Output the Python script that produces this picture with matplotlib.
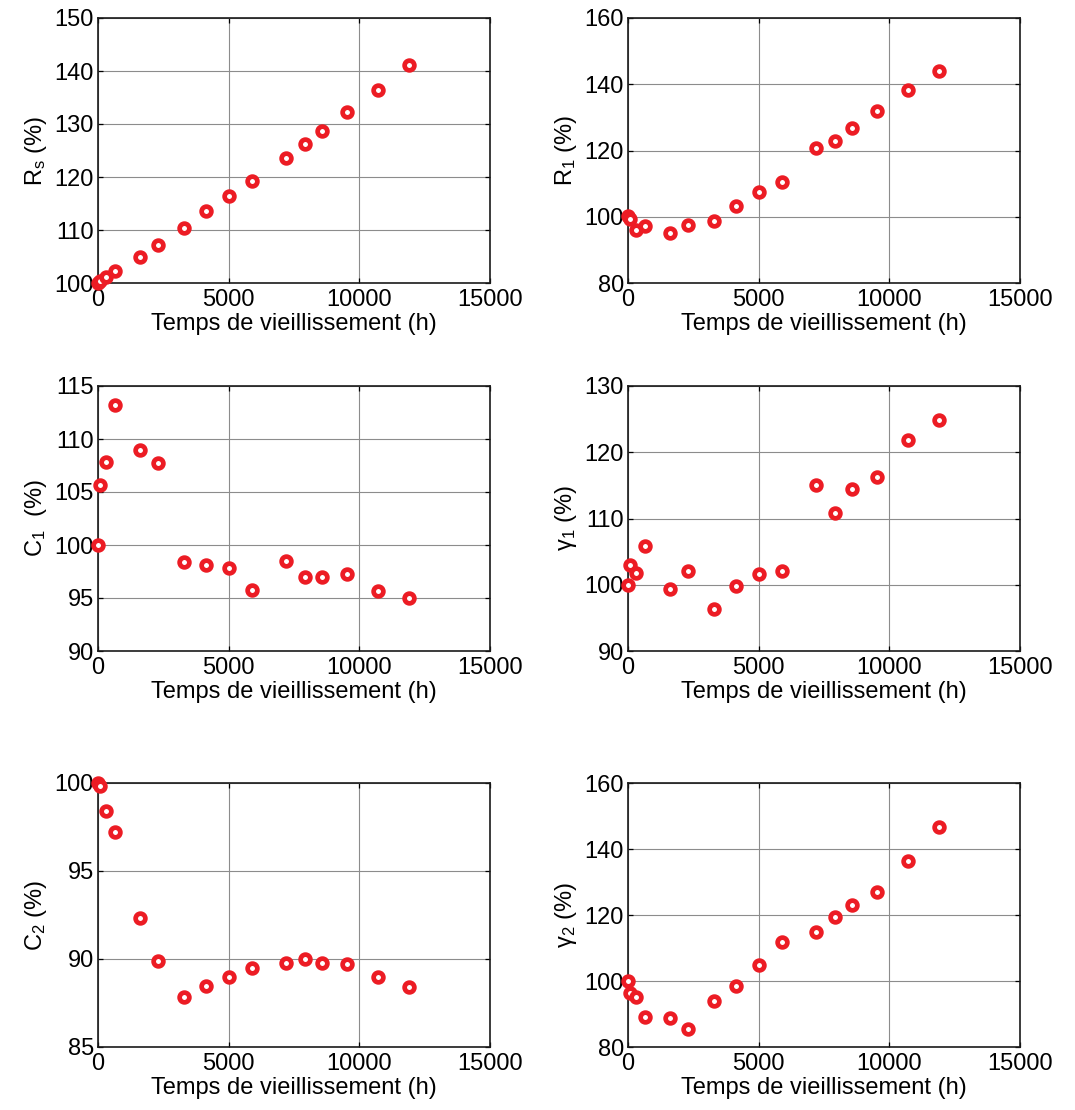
import matplotlib
matplotlib.use("Agg")
import matplotlib.pyplot as plt
import numpy as np

plt.rcParams['font.family'] = ['Liberation Sans', 'DejaVu Sans']
plt.rcParams['mathtext.fontset'] = 'custom'
plt.rcParams['mathtext.rm'] = 'Liberation Sans'
plt.rcParams['mathtext.it'] = 'Liberation Sans'
plt.rcParams['mathtext.default'] = 'regular'

# Ageing time (h)
time_h = [0, 70, 300, 650, 1600, 2300, 3300, 4130, 5000, 5910, 7210, 7910, 8580, 9520, 10700, 11910]

rs = [100.0, 100.4, 101.2, 102.2, 105.0, 107.1, 110.4, 113.6, 116.4, 119.2, 123.5, 126.3, 128.7, 132.2, 136.4, 141.2]
r1 = [100.2, 99.3, 96.1, 97.2, 95.1, 97.5, 98.6, 103.1, 107.4, 110.6, 120.7, 122.9, 126.7, 131.8, 138.2, 143.9]
c1 = [100.0, 105.7, 107.8, 113.2, 109.0, 107.7, 98.4, 98.1, 97.8, 95.8, 98.5, 97.0, 97.0, 97.3, 95.7, 95.0]
g1 = [100.0, 103.0, 101.7, 105.9, 99.4, 102.1, 96.4, 99.8, 101.6, 102.1, 115.0, 110.9, 114.4, 116.2, 121.8, 124.8]
c2 = [100.0, 99.85, 98.4, 97.2, 92.35, 89.9, 87.85, 88.45, 88.95, 89.5, 89.8, 90.0, 89.75, 89.7, 88.95, 88.4]
g2 = [100.1, 96.5, 95.1, 89.2, 88.9, 85.5, 93.8, 98.6, 104.9, 111.9, 114.7, 119.3, 123.1, 126.9, 136.3, 146.8]

panels = [
    (rs, r'R$_{\mathrm{s}}$ (%)', (100, 150), 10),
    (r1, r'R$_{\mathrm{1}}$ (%)', (80, 160), 20),
    (c1, r'C$_{\mathrm{1}}$  (%)', (90, 115), 5),
    (g1, r'$\mathrm{\gamma}_{\mathrm{1}}$ (%)', (90, 130), 10),
    (c2, r'C$_{\mathrm{2}}$ (%)', (85, 100), 5),
    (g2, r'$\mathrm{\gamma}_{\mathrm{2}}$ (%)', (80, 160), 20),
]

W, H = 1075, 1110
fig = plt.figure(figsize=(W / 100, H / 100), dpi=100)

lefts = [98, 628]
width = 392
rows = [(18, 283), (386, 651), (783, 1047)]

red = '#EC1C24'
FS = 17
for i, (vals, ylab, ylim, ystep) in enumerate(panels):
    r, c = divmod(i, 2)
    top, bot = rows[r]
    ax = fig.add_axes([lefts[c] / W, 1 - bot / H, width / W, (bot - top) / H])
    ax.plot(time_h, vals, 'o', ms=7.0, mew=3.4, mec=red, mfc='white',
            linestyle='none', clip_on=False, zorder=5)
    ax.set_xlim(0, 15000)
    ax.set_ylim(*ylim)
    ax.set_xticks(np.arange(0, 15001, 5000))
    ax.set_yticks(np.arange(ylim[0], ylim[1] + 0.1, ystep))
    ax.grid(True, color='#8c8c8c', linewidth=0.8)
    ax.set_axisbelow(True)
    ax.tick_params(direction='in', length=3.5, width=0.9, top=True, right=True,
                   labelsize=FS, colors='black')
    ax.tick_params(axis='x', pad=4)
    ax.tick_params(axis='y', pad=3)
    for s in ax.spines.values():
        s.set_linewidth(1.2)
        s.set_color('#1a1a1a')
    ax.set_xlabel('Temps de vieillissement (h)', fontsize=FS, labelpad=2)
    ax.set_ylabel(ylab, fontsize=FS, labelpad=4)

fig.savefig('out.png', dpi=100)
